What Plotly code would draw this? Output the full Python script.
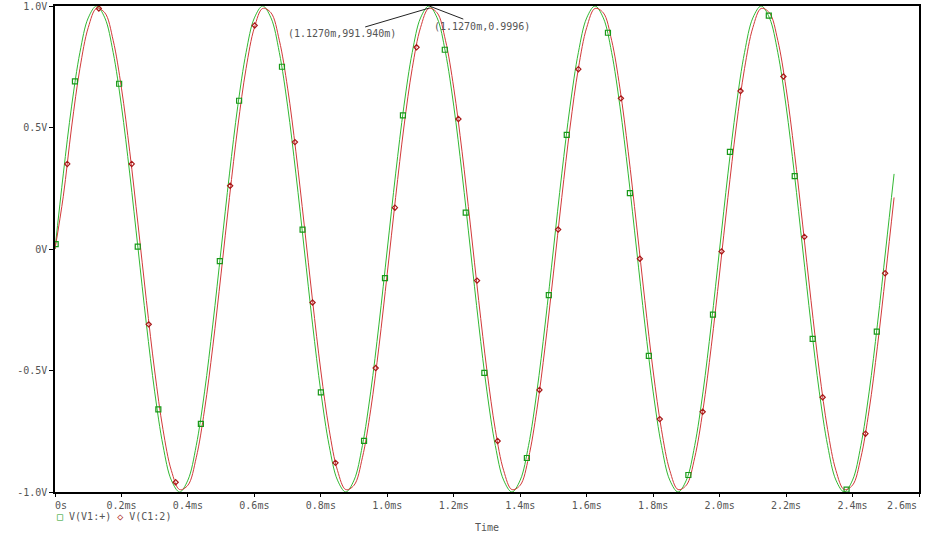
import plotly.graph_objects as go

# Sample times (ms) for the traces
time_ms = [0.000, 0.025, 0.050, 0.075, 0.100, 0.125, 0.150, 0.175, 0.200, 0.225,
           0.250, 0.275, 0.300, 0.325, 0.350, 0.375, 0.400, 0.425, 0.450, 0.475,
           0.500, 0.525, 0.550, 0.575, 0.600, 0.625, 0.650, 0.675, 0.700, 0.725,
           0.750, 0.775, 0.800, 0.825, 0.850, 0.875, 0.900, 0.925, 0.950, 0.975,
           1.000, 1.025, 1.050, 1.075, 1.100, 1.125, 1.150, 1.175, 1.200, 1.225,
           1.250, 1.275, 1.300, 1.325, 1.350, 1.375, 1.400, 1.425, 1.450, 1.475,
           1.500, 1.525, 1.550, 1.575, 1.600, 1.625, 1.650, 1.675, 1.700, 1.725,
           1.750, 1.775, 1.800, 1.825, 1.850, 1.875, 1.900, 1.925, 1.950, 1.975,
           2.000, 2.025, 2.050, 2.075, 2.100, 2.125, 2.150, 2.175, 2.200, 2.225,
           2.250, 2.275, 2.300, 2.325, 2.350, 2.375, 2.400, 2.425, 2.450, 2.475,
           2.500, 2.525]

# V(V1:+) values (V)
v_v1 = [0.000, 0.309, 0.588, 0.809, 0.951, 1.000, 0.951, 0.809, 0.588, 0.309,
        0.000, -0.309, -0.588, -0.809, -0.951, -1.000, -0.951, -0.809, -0.588, -0.309,
        0.000, 0.309, 0.588, 0.809, 0.951, 1.000, 0.951, 0.809, 0.588, 0.309,
        0.000, -0.309, -0.588, -0.809, -0.951, -1.000, -0.951, -0.809, -0.588, -0.309,
        0.000, 0.309, 0.588, 0.809, 0.951, 1.000, 0.951, 0.809, 0.588, 0.309,
        0.000, -0.309, -0.588, -0.809, -0.951, -1.000, -0.951, -0.809, -0.588, -0.309,
        0.000, 0.309, 0.588, 0.809, 0.951, 1.000, 0.951, 0.809, 0.588, 0.309,
        0.000, -0.309, -0.588, -0.809, -0.951, -1.000, -0.951, -0.809, -0.588, -0.309,
        0.000, 0.309, 0.588, 0.809, 0.951, 1.000, 0.951, 0.809, 0.588, 0.309,
        0.000, -0.309, -0.588, -0.809, -0.951, -1.000, -0.951, -0.809, -0.588, -0.309,
        0.000, 0.309]

# V(C1:2) values (V)
v_c1 = [0.000, 0.217, 0.502, 0.743, 0.911, 0.990, 0.972, 0.859, 0.662, 0.400,
        0.099, -0.212, -0.502, -0.743, -0.911, -0.990, -0.972, -0.859, -0.662, -0.400,
        -0.099, 0.212, 0.502, 0.743, 0.911, 0.990, 0.972, 0.859, 0.662, 0.400,
        0.099, -0.212, -0.502, -0.743, -0.911, -0.990, -0.972, -0.859, -0.662, -0.400,
        -0.099, 0.212, 0.502, 0.743, 0.911, 0.990, 0.972, 0.859, 0.662, 0.400,
        0.099, -0.212, -0.502, -0.743, -0.911, -0.990, -0.972, -0.859, -0.662, -0.400,
        -0.099, 0.212, 0.502, 0.743, 0.911, 0.990, 0.972, 0.859, 0.662, 0.400,
        0.099, -0.212, -0.502, -0.743, -0.911, -0.990, -0.972, -0.859, -0.662, -0.400,
        -0.099, 0.212, 0.502, 0.743, 0.911, 0.990, 0.972, 0.859, 0.662, 0.400,
        0.099, -0.212, -0.502, -0.743, -0.911, -0.990, -0.972, -0.859, -0.662, -0.400,
        -0.099, 0.212]

# Marker positions along each trace
v1_mark_t = [0.002, 0.060, 0.193, 0.249, 0.311, 0.439, 0.496, 0.554, 0.683, 0.745,
             0.800, 0.930, 0.993, 1.047, 1.173, 1.236, 1.292, 1.420, 1.486, 1.540,
             1.664, 1.730, 1.787, 1.906, 1.980, 2.031, 2.148, 2.226, 2.280, 2.382,
             2.473]
v1_mark_v = [0.02, 0.69, 0.68, 0.01, -0.66, -0.72, -0.05, 0.61, 0.75, 0.08,
             -0.59, -0.79, -0.12, 0.55, 0.82, 0.15, -0.51, -0.86, -0.19, 0.47,
             0.89, 0.23, -0.44, -0.93, -0.27, 0.40, 0.96, 0.30, -0.37, -0.99,
             -0.34]
c1_mark_t = [0.037, 0.132, 0.231, 0.282, 0.363, 0.527, 0.601, 0.722, 0.775, 0.844,
             0.965, 1.023, 1.088, 1.214, 1.270, 1.332, 1.458, 1.514, 1.575, 1.703,
             1.760, 1.820, 1.949, 2.006, 2.063, 2.192, 2.255, 2.310, 2.439, 2.498]
c1_mark_v = [0.35, 0.99, 0.35, -0.31, -0.96, 0.26, 0.92, 0.44, -0.22, -0.88,
             -0.49, 0.17, 0.83, 0.535, -0.13, -0.79, -0.58, 0.08, 0.74, 0.62,
             -0.04, -0.70, -0.67, -0.01, 0.65, 0.71, 0.05, -0.61, -0.76, -0.10]

# Cursor readouts
cursor_t = 1.127
cursor_c1 = 0.99194
cursor_v1 = 0.9996
cursor_c1_label = "(1.1270m,991.940m)"
cursor_v1_label = "(1.1270m,0.9996)"

series_names = ["V(V1:+)", "V(C1:2)"]

NB = "\u00a0"
x_tickvals = [0, 0.2, 0.4, 0.6, 0.8, 1.0, 1.2, 1.4, 1.6, 1.8, 2.0, 2.2, 2.4, 2.6]
x_ticktext = [NB * 2 + "0s", "0.2ms", "0.4ms", "0.6ms", "0.8ms", "1.0ms", "1.2ms", "1.4ms",
              "1.6ms", "1.8ms", "2.0ms", "2.2ms", "2.4ms", ""]
x_last_label = "2.6ms"
y_tickvals = [-1.0, -0.5, 0.0, 0.5, 1.0]
y_ticktext = ["-1.0V", "-0.5V", "0V", "0.5V", "1.0V"]

GREEN_LINE = "#33b833"
GREEN_MARK = "#189818"
RED_LINE = "#d23a3a"
RED_MARK = "#a81818"
FONT = "DejaVu Sans Mono"
TXT = "#555555"

fig = go.Figure()
fig.add_trace(go.Scatter(x=time_ms, y=v_v1, mode="lines", line=dict(color=GREEN_LINE, width=1, shape="spline"),
                         showlegend=False, hoverinfo="skip"))
fig.add_trace(go.Scatter(x=time_ms, y=v_c1, mode="lines", line=dict(color=RED_LINE, width=1, shape="spline"),
                         showlegend=False, hoverinfo="skip"))
fig.add_trace(go.Scatter(x=v1_mark_t, y=v1_mark_v, mode="markers", name=series_names[0], showlegend=False,
                         marker=dict(symbol="square-open", size=5, color=GREEN_MARK, line=dict(width=1.2, color=GREEN_MARK))))
fig.add_trace(go.Scatter(x=c1_mark_t, y=c1_mark_v, mode="markers", name=series_names[1], showlegend=False,
                         marker=dict(symbol="diamond-open", size=4, color=RED_MARK, line=dict(width=1.2, color=RED_MARK))))

fig.add_annotation(x=cursor_t, y=cursor_c1, text=cursor_c1_label, showarrow=True, arrowhead=0,
                   arrowwidth=1, arrowcolor="#222222", ax=-88, ay=26, xanchor="center",
                   font=dict(family=FONT, size=10, color=TXT))
fig.add_annotation(x=cursor_t, y=cursor_v1, text=cursor_v1_label, showarrow=True, arrowhead=0,
                   arrowwidth=1, arrowcolor="#222222", ax=52, ay=20, xanchor="center",
                   font=dict(family=FONT, size=10, color=TXT))

# Last x tick label, right-aligned to the axis end
fig.add_annotation(xref="paper", yref="paper", x=1, y=-0.027, xanchor="right", yanchor="middle",
                   text=x_last_label, showarrow=False, font=dict(family=FONT, size=10, color=TXT))

# Legend, drawn as text below the axis
legend_text = (f'<span style="color:{GREEN_MARK}">\u25a1</span>{NB}{series_names[0]}{NB}'
               f'<span style="color:{RED_MARK}">\u25c7</span>{NB}{series_names[1]}')
fig.add_annotation(xref="paper", yref="paper", x=0, y=-0.05, xanchor="left", yanchor="middle",
                   text=legend_text, showarrow=False, font=dict(family=FONT, size=10, color=TXT))

fig.update_layout(
    template="none",
    width=932, height=537,
    margin=dict(l=55, r=13, t=6, b=45, autoexpand=False),
    plot_bgcolor="white", paper_bgcolor="white",
    font=dict(family=FONT, size=10, color=TXT),
    showlegend=False,
    xaxis=dict(range=[0, 2.6], tickvals=x_tickvals, ticktext=x_ticktext, showgrid=False, zeroline=False,
               showline=True, linecolor="black", linewidth=1.5, mirror=True, automargin=False,
               ticks="outside", ticklen=3, tickcolor="black", ticklabeloverflow="allow",
               tickfont=dict(family=FONT, size=10, color=TXT),
               title=dict(text="Time", standoff=14, font=dict(family=FONT, size=10, color=TXT))),
    yaxis=dict(range=[-1.0, 1.0], tickvals=y_tickvals, ticktext=y_ticktext, showgrid=False, zeroline=False,
               showline=True, linecolor="black", linewidth=1.5, mirror=True, automargin=False,
               ticks="outside", ticklen=4, tickcolor="black", ticklabeloverflow="allow",
               tickfont=dict(family=FONT, size=10, color=TXT)),
)

fig.write_html("out.html", config={"displayModeBar": False},
               post_script="document.body.style.margin='0';document.body.style.overflow='hidden';")
